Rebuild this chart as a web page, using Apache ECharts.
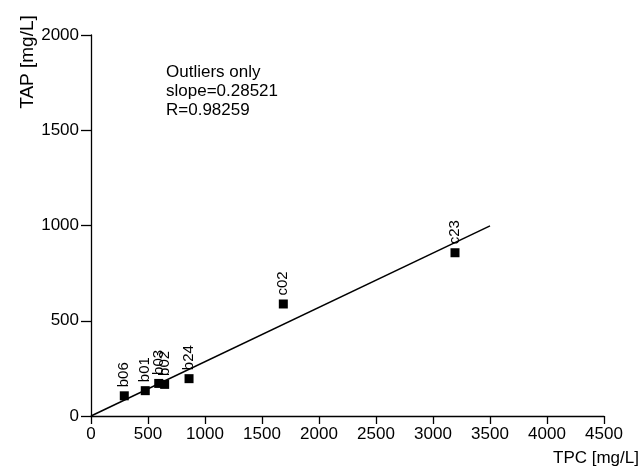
<!DOCTYPE html>
<html>
<head>
<meta charset="utf-8">
<script src="https://cdn.jsdelivr.net/npm/echarts@6/dist/echarts.min.js"></script>
<style>
  html, body { margin: 0; padding: 0; background: #fff; }
  #main { width: 642px; height: 468px; }
</style>
</head>
<body>
<div id="main"></div>
<script>
var chartDom = document.getElementById('main');
var myChart = echarts.init(chartDom);
var option;

// samples (outliers only)
var sampleNames = ['b06', 'b01', 'b03', 'b02', 'b24', 'c02', 'c23'];
var tpcValues = [292, 476, 594, 646, 860, 1687, 3193];
var tapValues = [106, 133, 171, 166, 196, 588, 857];

// regression line through origin
var slope = 0.28521;
var fitX = [0, 3500];

var font = 'Liberation Sans, Arial, Helvetica, sans-serif';

var points = sampleNames.map(function (n, i) {
  return { name: n, value: [tpcValues[i], tapValues[i]] };
});
var fitLine = fitX.map(function (x) { return [x, x * slope]; });

function plain(v) { return String(v); }

option = {
  animation: false,
  backgroundColor: '#fff',
  grid: { left: 91, right: 38, top: 35, bottom: 52 },
  xAxis: {
    type: 'value',
    min: 0,
    max: 4500,
    interval: 500,
    axisLine: { show: true, onZero: false, lineStyle: { color: '#000', width: 1.3 } },
    axisTick: { show: true, length: 8, lineStyle: { color: '#000', width: 1.3 } },
    axisLabel: { color: '#000', fontSize: 17, fontFamily: font, margin: 10, formatter: plain },
    splitLine: { show: false }
  },
  yAxis: {
    type: 'value',
    min: 0,
    max: 2000,
    interval: 500,
    axisLine: { show: true, onZero: false, lineStyle: { color: '#000', width: 1.3 } },
    axisTick: { show: true, length: 10, lineStyle: { color: '#000', width: 1.3 } },
    axisLabel: { color: '#000', fontSize: 17, fontFamily: font, margin: 12, formatter: plain },
    splitLine: { show: false }
  },
  graphic: [
    {
      type: 'text',
      left: 166,
      top: 63,
      style: {
        text: 'Outliers only\nslope=0.28521\nR=0.98259',
        font: '17px ' + font,
        lineHeight: 19,
        fill: '#000'
      }
    },
    {
      type: 'text',
      x: 28,
      y: 62,
      rotation: Math.PI / 2,
      style: {
        text: 'TAP [mg/L]',
        font: '19px ' + font,
        fill: '#000',
        align: 'center',
        verticalAlign: 'middle'
      }
    },
    {
      type: 'text',
      x: 553,
      y: 458,
      style: {
        text: 'TPC [mg/L]',
        font: '17px ' + font,
        fill: '#000',
        align: 'left',
        verticalAlign: 'middle'
      }
    }
  ],
  series: [
    {
      type: 'line',
      data: fitLine,
      showSymbol: false,
      silent: true,
      lineStyle: { color: '#000', width: 1.5 }
    },
    {
      type: 'scatter',
      data: points,
      symbol: 'rect',
      symbolSize: 9,
      itemStyle: { color: '#000', opacity: 1 },
      label: {
        show: true,
        position: 'top',
        distance: 4,
        rotate: 90,
        align: 'left',
        verticalAlign: 'middle',
        formatter: '{b}',
        color: '#000',
        fontSize: 15,
        fontFamily: font
      },
      labelLayout: { hideOverlap: false }
    }
  ]
};

option && myChart.setOption(option);
</script>
</body>
</html>
